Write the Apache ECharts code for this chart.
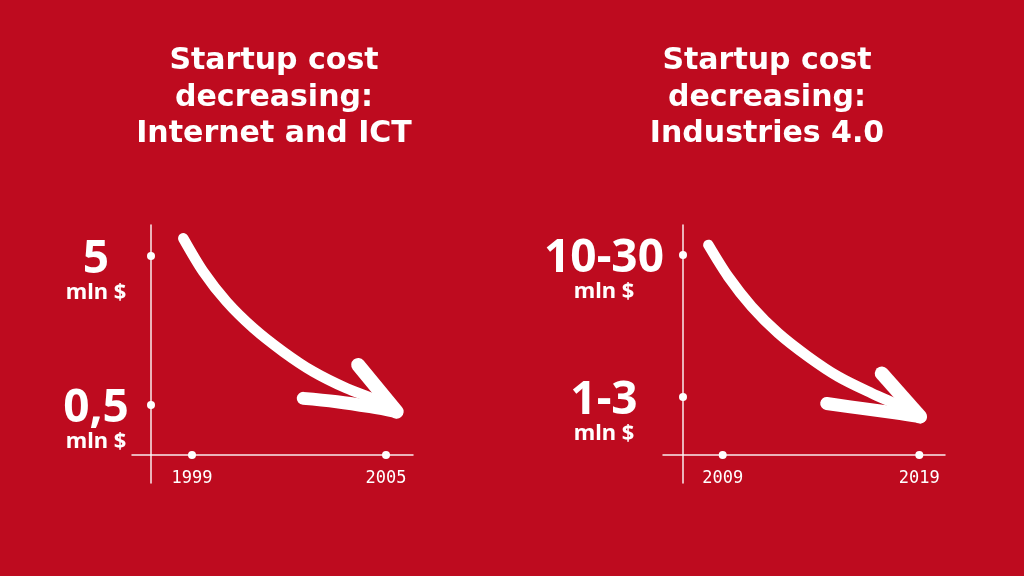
<!DOCTYPE html>
<html>
<head>
<meta charset="utf-8">
<title>Startup cost decreasing</title>
<script src="https://cdn.jsdelivr.net/npm/echarts@6/dist/echarts.min.js"></script>
<style>
  html, body { margin: 0; padding: 0; background: #be0b1f; }
  #chart { width: 1024px; height: 576px; }
</style>
</head>
<body>
<div id="chart"></div>
<script>
// left panel - Internet and ICT
var ictTitle = 'Startup cost\ndecreasing:\nInternet and ICT';
var ictYears = [1999, 2005];
var ictCost = [5, 0.5];                 // mln $
var ictCostLabels = ['5', '0,5'];
// hand drawn arrow, [year, mln $]
var ictArrow = [[1998.73, 6.57], [1999.35, 3.92], [2000.07, 2.47], [2000.90, 1.64],
                [2001.82, 1.14], [2002.75, 0.837], [2003.78, 0.647], [2004.71, 0.540],
                [2005.33, 0.451]];
var ictHeadUp = [[2004.14, 0.928], [2005.33, 0.451]];
var ictHeadLow = [[2002.44, 0.554], [2003.48, 0.526], [2004.51, 0.487], [2005.33, 0.451]];

// right panel - Industries 4.0
var indTitle = 'Startup cost\ndecreasing:\nIndustries 4.0';
var indYears = [2009, 2019];
var indCostLow = [10, 1];               // mln $
var indCostHigh = [30, 3];
var indCostLabels = ['10-30', '1-3'];
var indArrow = [[2008.27, 20.4], [2009.28, 12.2], [2010.48, 7.49], [2011.83, 4.87],
                [2013.35, 3.33], [2014.88, 2.41], [2016.58, 1.84], [2018.10, 1.48],
                [2019.04, 1.26]];
var indHeadUp = [[2017.09, 2.54], [2019.04, 1.26]];
var indHeadLow = [[2014.29, 1.56], [2016.07, 1.44], [2017.76, 1.34], [2019.04, 1.26]];

var WHITE = '#ffffff';
var GRID_H = 258;

// cost axis is logarithmic, so plot log10 of the values
function lg(v) { return Math.log10(v); }
function toLog(pts) { return pts.map(function (p) { return [p[0], lg(p[1])]; }); }

var ictLevels = ictCost.map(lg);
var indLevels = indCostLow.map(function (lo, i) { return lg(Math.sqrt(lo * indCostHigh[i])); });

function panel(idx, grid, xMin, xMax, yMin, yMax, years, levels, labels, labelMargin, yOff, arrow, up, low) {
    // where the crossing axes sit inside the grid (for the dots)
    var xAt = xMin + (xMax - xMin) * yOff / grid.width;
    var yAt = yMin + (yMax - yMin) * 28 / GRID_H;

    var xAxis = {
        gridIndex: idx, type: 'value', min: xMin, max: xMax,
        offset: -28,
        axisLine: { onZero: false, lineStyle: { color: 'rgba(255,255,255,0.92)', width: 1.5 } },
        axisTick: { show: false },
        splitLine: { show: false },
        axisLabel: {
            customValues: years, margin: 15, color: WHITE,
            fontFamily: 'DejaVu Sans Mono', fontSize: 17,
            formatter: function (v) { return String(Math.round(v)); }
        }
    };
    var yAxis = {
        gridIndex: idx, type: 'value', min: yMin, max: yMax,
        offset: -yOff,
        axisLine: { onZero: false, lineStyle: { color: 'rgba(255,255,255,0.92)', width: 1.5 } },
        axisTick: { show: false },
        splitLine: { show: false },
        axisLabel: {
            customValues: levels, margin: labelMargin, align: 'center',
            padding: [30, 0, 0, 0],
            formatter: function (v) {
                var k = 0;
                levels.forEach(function (l, i) { if (Math.abs(l - v) < Math.abs(levels[k] - v)) k = i; });
                return '{n|' + labels[k] + '}\n{u|mln $}';
            },
            rich: {
                n: { fontFamily: 'Noto Sans', fontWeight: 'bold', fontSize: 46, lineHeight: 44, color: WHITE },
                u: { fontFamily: 'Noto Sans', fontWeight: 'bold', fontSize: 22, lineHeight: 22, color: WHITE }
            }
        }
    };
    var dots = levels.map(function (l) { return [xAt, l]; })
        .concat(years.map(function (y) { return [y, yAt]; }));
    var stroke = function (data, w, smooth) {
        return {
            type: 'line', xAxisIndex: idx, yAxisIndex: idx, data: toLog(data),
            smooth: smooth, showSymbol: false, silent: true, z: 5,
            lineStyle: { color: WHITE, width: w, cap: 'round', join: 'round' }
        };
    };
    var series = [
        { type: 'scatter', xAxisIndex: idx, yAxisIndex: idx, data: dots,
          symbolSize: 8, itemStyle: { color: WHITE, opacity: 1 }, silent: true },
        stroke(arrow, 10.5, 0.3),
        stroke(up, 14, false),
        stroke(low, 13, 0.4)
    ];
    return { xAxis: xAxis, yAxis: yAxis, series: series };
}

var gridA = { left: 132, top: 225, width: 281, height: GRID_H };
var gridB = { left: 663, top: 225, width: 282, height: GRID_H };

var pA = panel(0, gridA, 1997.144, 2005.835, -0.8245, 0.9070,
               ictYears, ictLevels, ictCostLabels, 55, 19, ictArrow, ictHeadUp, ictHeadLow);
var pB = panel(1, gridB, 2005.963, 2020.307, -0.3670, 1.4499,
               indYears, indLevels, indCostLabels, 79, 20, indArrow, indHeadUp, indHeadLow);

var titleStyle = {
    color: WHITE, fontFamily: 'DejaVu Sans', fontWeight: 'bold',
    fontSize: 30, lineHeight: 36.5
};

var myChart = echarts.init(document.getElementById('chart'));
myChart.setOption({
    backgroundColor: '#be0b1f',
    animation: false,
    title: [
        { text: ictTitle, left: 269, top: 38, textAlign: 'center', textStyle: titleStyle },
        { text: indTitle, left: 762, top: 38, textAlign: 'center', textStyle: titleStyle }
    ],
    grid: [gridA, gridB],
    xAxis: [pA.xAxis, pB.xAxis],
    yAxis: [pA.yAxis, pB.yAxis],
    series: pA.series.concat(pB.series)
});
</script>
</body>
</html>
